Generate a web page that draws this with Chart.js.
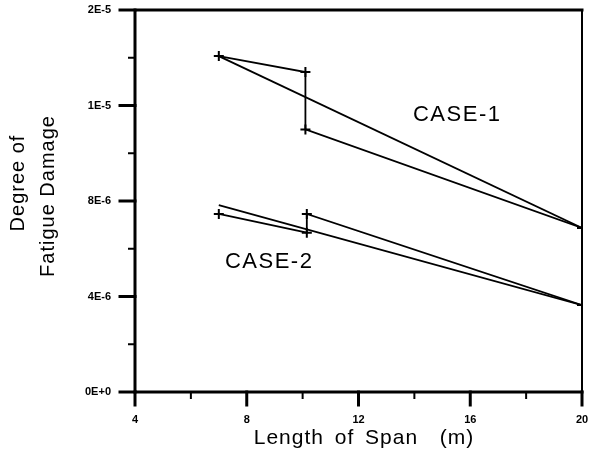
<!DOCTYPE html>
<html>
<head>
<meta charset="utf-8">
<script src="https://cdn.jsdelivr.net/npm/chart.js@4"></script>
<style>
  body { margin: 0; background: #fff; }
</style>
</head>
<body>
<canvas id="chart" width="590" height="450"></canvas>
<script>
// span length (m) and fatigue damage
const caseOneSpan = [7, 10.1, 10.1, 20];
const caseOneDamage = [1.407e-5, 1.340e-5, 1.100e-5, 6.87e-6];
const caseOneLineSpan = [7, 20];
const caseOneLineDamage = [1.407e-5, 6.87e-6];

const caseTwoSpan = [7, 10.15, 10.15, 20];
const caseTwoDamage = [7.46e-6, 6.67e-6, 7.46e-6, 3.64e-6];
const caseTwoLineSpan = [7, 20];
const caseTwoLineDamage = [7.83e-6, 3.64e-6];

const xTickLabels = ['4', '8', '12', '16', '20'];
const yTickLabels = ['0E+0', '4E-6', '8E-6', '1E-5', '2E-5'];

const xTitle = 'Length of Span  (m)';
const yTitle = ['Degree of', 'Fatigue Damage'];

const caseLabels = ['CASE-1', 'CASE-2'];
const caseLabelAt = [[13.95, 1.16e-5], [7.22, 5.45e-6]];

const FONT = '"Liberation Sans", Arial, Helvetica, sans-serif';

function points(xs, ys) {
  return xs.map((x, i) => ({x: x, y: ys[i]}));
}

function series(label, xs, ys, marks) {
  return {
    label: label,
    data: points(xs, ys),
    showLine: true,
    borderColor: '#000',
    backgroundColor: '#000',
    borderWidth: 1.8,
    pointStyle: 'cross',
    pointRadius: marks ? 5 : 0,
    pointBorderWidth: 2,
    pointBorderColor: '#000',
  };
}

function noPadding(scale) {
  scale.paddingTop = 0;
  scale.paddingBottom = 0;
  scale.paddingLeft = 0;
  scale.paddingRight = 0;
}

// axes, frame, major/minor ticks, axis titles and the case labels
const frame = {
  id: 'frame',
  afterDraw(chart) {
    const {ctx, chartArea: a, scales: {x, y}} = chart;
    ctx.save();
    ctx.strokeStyle = '#000';
    ctx.lineCap = 'square';

    ctx.lineWidth = 3;
    ctx.beginPath();
    ctx.moveTo(a.right, a.top);
    ctx.lineTo(a.left, a.top);
    ctx.lineTo(a.left, a.bottom);
    ctx.lineTo(a.right, a.bottom);
    ctx.stroke();

    ctx.lineWidth = 2;
    ctx.beginPath();
    ctx.moveTo(a.right, a.top);
    ctx.lineTo(a.right, a.bottom);
    ctx.stroke();

    x.ticks.forEach((t, i) => {
      const px = x.getPixelForValue(t.value);
      ctx.lineWidth = i % 2 ? 2 : 3;
      ctx.beginPath();
      ctx.moveTo(px, a.bottom);
      ctx.lineTo(px, a.bottom + (i % 2 ? 6 : 13));
      ctx.stroke();
    });
    y.ticks.forEach((t, i) => {
      const py = y.getPixelForValue(t.value);
      ctx.lineWidth = i % 2 ? 2 : 3;
      ctx.beginPath();
      ctx.moveTo(a.left, py);
      ctx.lineTo(a.left - (i % 2 ? 6 : 15), py);
      ctx.stroke();
    });

    ctx.fillStyle = '#000';
    ctx.font = '22px ' + FONT;
    ctx.letterSpacing = '1.5px';
    ctx.textBaseline = 'middle';
    ctx.textAlign = 'left';
    caseLabels.forEach((txt, i) => {
      ctx.fillText(txt, x.getPixelForValue(caseLabelAt[i][0]), y.getPixelForValue(caseLabelAt[i][1]));
    });

    ctx.font = '21px ' + FONT;
    ctx.textBaseline = 'alphabetic';
    ctx.textAlign = 'center';
    ctx.letterSpacing = '1px';
    ctx.wordSpacing = '4px';
    ctx.fillText(xTitle, 364, 444);

    ctx.font = '20px ' + FONT;
    ctx.letterSpacing = '1px';
    ctx.wordSpacing = '0px';
    [[yTitle[0], 24, 183], [yTitle[1], 54, 196]].forEach(([txt, bx, cy]) => {
      ctx.save();
      ctx.translate(bx, cy);
      ctx.rotate(-Math.PI / 2);
      ctx.fillText(txt, 0, 0);
      ctx.restore();
    });
    ctx.restore();
  }
};

const data = {
  datasets: [
    series('CASE-1', caseOneSpan, caseOneDamage, true),
    series('CASE-1 line', caseOneLineSpan, caseOneLineDamage, false),
    series('CASE-2', caseTwoSpan, caseTwoDamage, true),
    series('CASE-2 line', caseTwoLineSpan, caseTwoLineDamage, false),
  ]
};

const config = {
  type: 'scatter',
  data: data,
  options: {
    responsive: false,
    animation: false,
    layout: {padding: {top: 10, right: 8, left: 0, bottom: 0}},
    plugins: {
      legend: {display: false},
      tooltip: {enabled: false},
    },
    scales: {
      x: {
        type: 'linear',
        min: 4,
        max: 20,
        grid: {display: false, drawTicks: false},
        border: {display: false},
        ticks: {
          stepSize: 2,
          autoSkip: false,
          maxRotation: 0,
          padding: 21,
          color: '#000',
          font: {family: FONT, size: 11, weight: 'bold'},
          callback: (v, i) => i % 2 ? '' : xTickLabels[i / 2],
        },
        afterFit: (scale) => { scale.height = 58; noPadding(scale); },
      },
      y: {
        type: 'linear',
        min: 0,
        max: 1.6e-5,
        grid: {display: false, drawTicks: false},
        border: {display: false},
        ticks: {
          stepSize: 2e-6,
          autoSkip: false,
          padding: 24,
          color: '#000',
          font: {family: FONT, size: 11, weight: 'bold'},
          callback: (v, i) => i % 2 ? '' : yTickLabels[i / 2],
        },
        afterFit: (scale) => { scale.width = 135; noPadding(scale); },
      },
    }
  },
  plugins: [frame]
};

const fatigueChart = new Chart(
  document.getElementById('chart'),
  config
);
</script>
</body>
</html>
